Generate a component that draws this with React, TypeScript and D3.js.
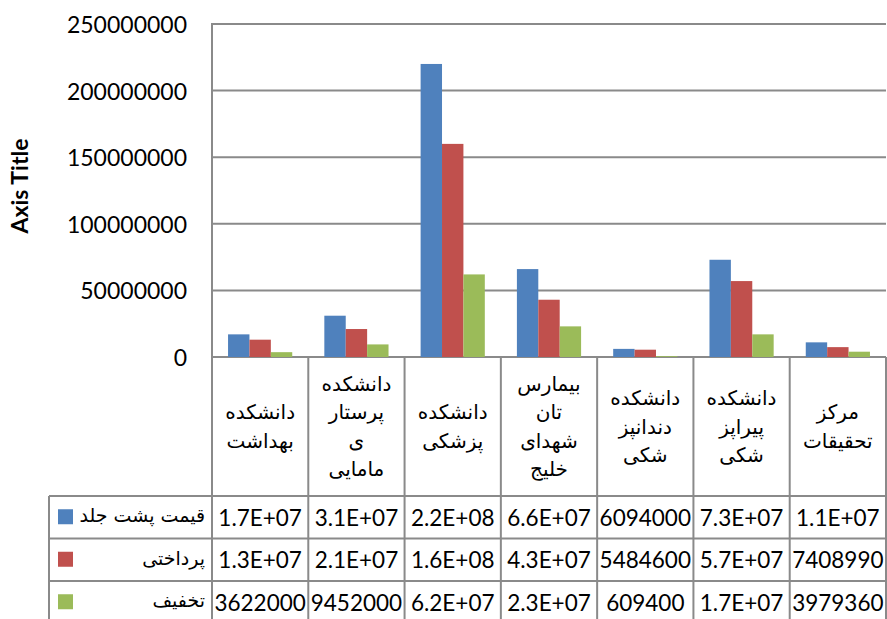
import React from "react";
import * as d3 from "d3";

const categoryLines: string[][] = [
  ["دانشکده", "بهداشت"],
  ["دانشکده", "پرستار", "ی", "مامایی"],
  ["دانشکده", "پزشکی"],
  ["بیمارس", "تان", "شهدای", "خلیج"],
  ["دانشکده", "دندانپز", "شکی"],
  ["دانشکده", "پیراپز", "شکی"],
  ["مرکز", "تحقیقات"],
];
const categories = categoryLines.map((l) => l.join(" "));

const seriesNames = ["قیمت پشت جلد", "پرداختی", "تخفیف"];
const coverPrice = [17000000, 31000000, 220000000, 66000000, 6094000, 73000000, 11000000];
const paid = [13000000, 21000000, 160000000, 43000000, 5484600, 57000000, 7408990];
const discount = [3622000, 9452000, 62000000, 23000000, 609400, 17000000, 3979360];
const seriesValues = [coverPrice, paid, discount];
const seriesColors = ["#4F81BD", "#C0504D", "#9BBB59"];
const yTicks = [0, 50000000, 100000000, 150000000, 200000000, 250000000];
const yTitle = "Axis Title";

const W = 887, H = 619;
const plotLeft = 212, plotRight = 886, plotTop = 24, plotBottom = 357;
const catRowBottom = 496;
const rowH = 42.5;
const legendLeft = 49;
const gridColor = "#8a8a8a";
const numFont = "Lato, 'Open Sans', sans-serif";
const faFont = "'DejaVu Sans', sans-serif";

function fmt(v: number): string {
  const s = Math.round(v).toString();
  if (s.length <= 7) return s;
  const e = v.toExponential(1);
  const [m, ex] = e.split("e");
  const sign = ex[0] === "-" ? "-" : "+";
  const digits = ex.replace(/[+-]/, "").padStart(2, "0");
  return `${m}E${sign}${digits}`;
}

export default function App() {
  const y = d3.scaleLinear().domain([0, 250000000]).range([plotBottom, plotTop]);
  const x = d3.scaleBand<string>().domain(categories).range([plotLeft, plotRight]).paddingInner(0).paddingOuter(0);
  const xs = d3
    .scaleBand<number>()
    .domain(d3.range(seriesNames.length))
    .range([0, x.bandwidth()])
    .paddingInner(0)
    .paddingOuter(0.75);

  const colEdges = categories.map((c) => x(c)!).concat([plotRight]);
  const tableBottom = catRowBottom + rowH * 3;

  return (
    <div style={{ position: "absolute", left: 0, top: 0 }}>
      <svg width={W} height={H} style={{ display: "block", background: "#fff" }}>
        {yTicks.map((t) => (
          <line key={"g" + t} x1={plotLeft} x2={plotRight} y1={y(t)} y2={y(t)} stroke={gridColor} strokeWidth={2} />
        ))}
        {yTicks.map((t) => (
          <text
            key={"t" + t}
            x={187}
            y={y(t)}
            textAnchor="end"
            dominantBaseline="central"
            fontFamily={numFont}
            fontSize={23}
            fill="#000"
          >
            {t}
          </text>
        ))}
        <text
          transform={`translate(19,186) rotate(-90)`}
          textAnchor="middle"
          dominantBaseline="central"
          fontFamily={numFont}
          fontWeight="bold"
          fontSize={23}
        >
          {yTitle}
        </text>
        {seriesValues.map((vals, si) =>
          vals.map((v, ci) => (
            <rect
              key={`b${si}-${ci}`}
              x={x(categories[ci])! + xs(si)!}
              y={y(v)}
              width={xs.bandwidth()}
              height={plotBottom - y(v)}
              fill={seriesColors[si]}
            />
          ))
        )}
        <line x1={plotLeft} x2={plotLeft} y1={plotTop - 1} y2={tableBottom} stroke={gridColor} strokeWidth={2} />
        {colEdges.slice(1).map((e, i) => (
          <line key={"v" + i} x1={e} x2={e} y1={plotBottom} y2={tableBottom} stroke={gridColor} strokeWidth={2} />
        ))}
        <line x1={legendLeft} x2={legendLeft} y1={catRowBottom} y2={tableBottom} stroke={gridColor} strokeWidth={2} />
        {[0, 1, 2].map((r) => (
          <line
            key={"h" + r}
            x1={legendLeft}
            x2={plotRight}
            y1={catRowBottom + r * rowH}
            y2={catRowBottom + r * rowH}
            stroke={gridColor}
            strokeWidth={2}
          />
        ))}
        {categoryLines.map((lines, ci) => {
          const cx = x(categories[ci])! + x.bandwidth() / 2;
          const cy = (plotBottom + catRowBottom) / 2;
          const lh = 28.5;
          return lines.map((ln, li) => (
            <text
              key={`c${ci}-${li}`}
              x={cx}
              y={cy + (li - (lines.length - 1) / 2) * lh}
              textAnchor="middle"
              dominantBaseline="central"
              fontFamily={faFont}
              fontSize={20}
              fill="#000"
            >
              {ln}
            </text>
          ));
        })}
        {seriesNames.map((name, si) => {
          const ry = catRowBottom + si * rowH;
          const cyy = ry + rowH / 2;
          return (
            <g key={"r" + si}>
              <rect x={58} y={cyy - 8} width={15} height={15} fill={seriesColors[si]} />
              <text
                x={205}
                y={cyy - 2}
                textAnchor="end"
                dominantBaseline="central"
                fontFamily={faFont}
                fontSize={19}
                fill="#000"
              >
                {name}
              </text>
              {seriesValues[si].map((v, ci) => (
                <text
                  key={`v${si}-${ci}`}
                  x={x(categories[ci])! + x.bandwidth() / 2}
                  y={cyy}
                  textAnchor="middle"
                  dominantBaseline="central"
                  fontFamily={numFont}
                  fontSize={22.5}
                  fill="#000"
                >
                  {fmt(v)}
                </text>
              ))}
            </g>
          );
        })}
      </svg>
    </div>
  );
}
